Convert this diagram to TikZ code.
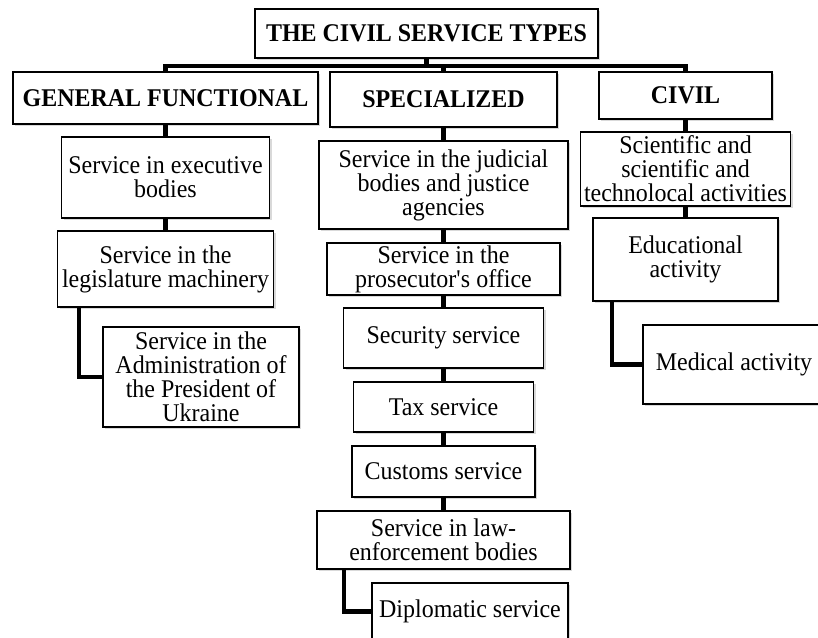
\documentclass[tikz,border=0pt]{standalone}
\usepackage{fontspec}
\setmainfont[FakeStretch=0.94]{Liberation Serif}
\usetikzlibrary{shadows}
\begin{document}
\begin{tikzpicture}[x=1pt,y=-1pt,
    box/.style={draw,line width=1.6pt,fill=white,align=center,inner sep=0pt,
      font=\fontsize{25.5}{24}\selectfont,
      drop shadow={shadow xshift=2pt,shadow yshift=-2pt,opacity=0.3}},
    head/.style={box,font=\fontsize{25.5}{24}\selectfont\bfseries},
    link/.style={line width=4.5pt}]
    \useasboundingbox (0,0) rectangle (818,637);
    \node [head,minimum width=343pt,minimum height=49pt] (title) at (426.5,33.5) {THE CIVIL SERVICE TYPES};
    \node [head,minimum width=305pt,minimum height=52pt] (gf) at (165.5,98) {GENERAL FUNCTIONAL};
    \node [head,minimum width=227pt,minimum height=55pt] (spec) at (443.5,99.5) {SPECIALIZED};
    \node [head,minimum width=173pt,minimum height=47pt] (civil) at (685.5,95.5) {CIVIL};
    \node [box,minimum width=208pt,minimum height=81pt] (exec) at (165.5,177.5) {Service in executive\\bodies};
    \node [box,minimum width=216pt,minimum height=76pt] (leg) at (165.5,269) {Service in the\\legislature machinery};
    \node [box,minimum width=196pt,minimum height=100pt] (admin) at (201,377) {Service in the\\Administration of\\the President of\\Ukraine};
    \node [box,minimum width=249pt,minimum height=88pt] (jud) at (443.5,185) {Service in the judicial\\bodies and justice\\agencies};
    \node [box,minimum width=233pt,minimum height=52pt] (pros) at (443.5,269) {Service in the\\prosecutor\textquotesingle s office};
    \node [box,minimum width=200pt,minimum height=60pt] (sec) at (443.5,338) {Security service};
    \node [box,minimum width=180pt,minimum height=50pt] (tax) at (443.5,407) {Tax service};
    \node [box,minimum width=183pt,minimum height=51pt] (cust) at (443.5,471.5) {Customs service};
    \node [box,minimum width=253pt,minimum height=58pt] (law) at (443.5,540) {Service in law-\\enforcement bodies};
    \node [box,minimum width=196pt,minimum height=57pt] (dipl) at (470,611.5) {Diplomatic service};
    \node [box,minimum width=210pt,minimum height=74pt] (sci) at (685.5,169) {Scientific and\\scientific and\\technolocal activities};
    \node [box,minimum width=185pt,minimum height=83pt] (edu) at (685.5,259.5) {Educational\\activity};
    \node [box,minimum width=182pt,minimum height=79pt] (med) at (734,364.5) {Medical activity};
    \foreach \kind in {gf,spec,civil}
      \draw [link] (title.south) -- ++(0,7) -| (\kind.north);
    \foreach \upper/\lower in {gf/exec,exec/leg,spec/jud,jud/pros,pros/sec,sec/tax,tax/cust,cust/law,civil/sci,sci/edu}
      \draw [link] (\upper.south) -- (\lower.north);
    \draw [link] ([xshift=22.5pt]leg.south west) |- (admin.west);
    \draw [link] ([xshift=28pt]law.south west) |- (dipl.west);
    \draw [link] ([xshift=20pt]edu.south west) |- (med.west);
\end{tikzpicture}
\end{document}
